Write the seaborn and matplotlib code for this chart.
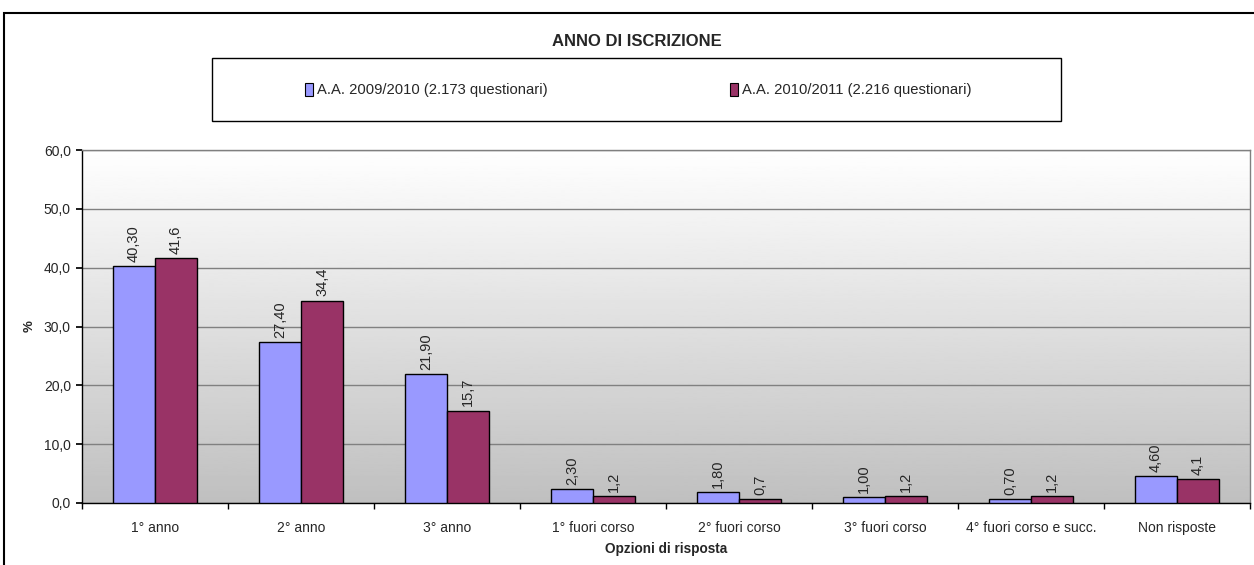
import numpy as np
import pandas as pd
import matplotlib
matplotlib.use("Agg")
import matplotlib.pyplot as plt
import matplotlib.patches as mpatches
from matplotlib.ticker import FuncFormatter
import seaborn as sns

categories = ["1° anno", "2° anno", "3° anno", "1° fuori corso", "2° fuori corso",
              "3° fuori corso", "4° fuori corso e succ.", "Non risposte"]
series_names = ["A.A. 2009/2010 (2.173 questionari)", "A.A. 2010/2011 (2.216 questionari)"]
values_2009 = [40.30, 27.40, 21.90, 2.30, 1.80, 1.00, 0.70, 4.60]
values_2010 = [41.6, 34.4, 15.7, 1.2, 0.7, 1.2, 1.2, 4.1]
label_decimals = [2, 1]
colors = ["#9999FF", "#993366"]
y_ticks = [0, 10, 20, 30, 40, 50, 60]

df = pd.DataFrame({
    "cat": categories * 2,
    "serie": [series_names[0]] * len(categories) + [series_names[1]] * len(categories),
    "val": values_2009 + values_2010,
})

sns.set_theme(style="white")
plt.rcParams["font.family"] = ["Liberation Sans", "DejaVu Sans"]

fig = plt.figure(figsize=(12.54, 5.65), dpi=100)
ax = fig.add_axes([82/1254, 1-503/565, (1250-82)/1254, (503-150)/565])

# gradient background
grad = np.linspace(0.75, 1.0, 256).reshape(-1, 1)
ax.imshow(grad, extent=[0, 1, 0, 1], transform=ax.transAxes, cmap="gray",
          vmin=0, vmax=1, aspect="auto", origin="lower", zorder=0)

sns.barplot(data=df, x="cat", y="val", hue="serie", order=categories,
            hue_order=series_names, palette=colors, saturation=1, width=0.575, gap=0,
            edgecolor="black", linewidth=1, ax=ax, zorder=3, legend=False)

ax.set_xlim(-0.5, len(categories) - 0.5)
ax.set_ylim(0, 60)
ax.set_yticks(y_ticks)
ax.yaxis.set_major_formatter(FuncFormatter(lambda v, p: f"{v:.1f}".replace(".", ",")))
ax.grid(axis="y", color="#808080", linewidth=1, zorder=1)
ax.set_axisbelow(True)

for cont, dec in zip(ax.containers, label_decimals):
    labs = [f"{b.get_height():.{dec}f}".replace(".", ",") for b in cont]
    ax.bar_label(cont, labels=labs, rotation=90, padding=3, fontsize=10.5)

ax.set_xticks(np.arange(len(categories) + 1) - 0.5, minor=True)
ax.tick_params(axis="x", which="major", length=0, labelsize=10, pad=13)
ax.tick_params(axis="x", which="minor", length=4, color="black", direction="out", bottom=True)
ax.tick_params(axis="y", length=4, color="black", direction="out", left=True, labelsize=10, pad=4)

for s in ["left", "bottom"]:
    ax.spines[s].set_color("black")
    ax.spines[s].set_linewidth(1)
for s in ["top", "right"]:
    ax.spines[s].set_color("#808080")
    ax.spines[s].set_linewidth(1)

ax.set_xlabel("Opzioni di risposta", fontsize=9.8, fontweight="bold", labelpad=5)
ax.set_ylabel("%", fontsize=9.5, fontweight="bold", labelpad=6)

fig.text(637/1254, 1-41/565, "ANNO DI ISCRIZIONE", ha="center", va="center",
         fontsize=12, fontweight="bold")

# outer frame
fig.patches.append(mpatches.Rectangle((4/1254, -0.1), 1.2, 1-13/565+0.1,
                                      transform=fig.transFigure, fill=False,
                                      edgecolor="black", linewidth=1.5))
# legend box
fig.patches.append(mpatches.Rectangle((212/1254, 1-121/565), (1061-212)/1254, 63/565,
                                      transform=fig.transFigure, fill=True, facecolor="white",
                                      edgecolor="black", linewidth=1))
handles = [mpatches.Patch(facecolor=c, edgecolor="black", linewidth=0.8) for c in colors]
fig.legend(handles, series_names, loc="center", bbox_to_anchor=(638/1254, 1-90/565),
           ncol=2, frameon=False, fontsize=10.6, handlelength=0.55, handleheight=1.0,
           handletextpad=0.25, columnspacing=12.4)

fig.savefig("out.png", dpi=100)
